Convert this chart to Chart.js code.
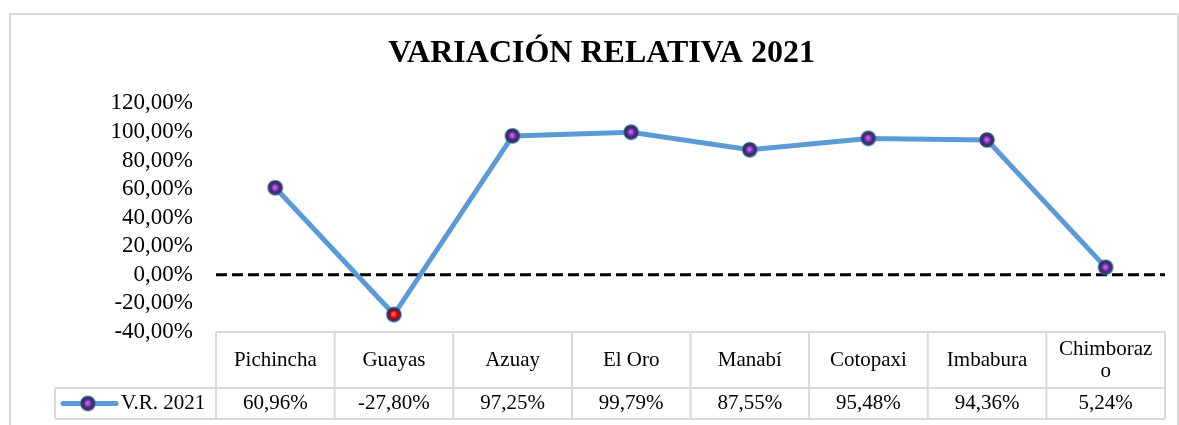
<!DOCTYPE html>
<html><head><meta charset="utf-8">
<script src="https://cdn.jsdelivr.net/npm/chart.js@4/dist/chart.umd.min.js"></script>
<style>html,body{margin:0;padding:0;background:#fff;overflow:hidden}</style>
</head><body>
<canvas id="c" width="1179" height="425"></canvas>
<script>
const categories = ['Pichincha', 'Guayas', 'Azuay', 'El Oro', 'Manabí', 'Cotopaxi', 'Imbabura', ['Chimboraz', 'o']];
const seriesName = 'V.R. 2021';
const values = [60.96, -27.80, 97.25, 99.79, 87.55, 95.48, 94.36, 5.24];
const yMin = -40, yMax = 120, yStep = 20;
const titleText = 'VARIACIÓN RELATIVA 2021';

const fmt = v => v.toFixed(2).replace('.', ',') + '%';
const FONT = '"Liberation Serif", "Times New Roman", serif';

function makeMarker(edge, inner, center) {
  const s = 18, c = document.createElement('canvas');
  c.width = s; c.height = s;
  const g = c.getContext('2d');
  let rg = g.createRadialGradient(8, 8, 2, 9, 9, 8.5);
  rg.addColorStop(0, '#1c2b4f');
  rg.addColorStop(0.75, '#2b426f');
  rg.addColorStop(1, 'rgba(120,170,220,0.5)');
  g.fillStyle = rg; g.beginPath(); g.arc(9, 9, 8, 0, Math.PI * 2); g.fill();
  rg = g.createRadialGradient(8.5, 8.5, 0.5, 9, 9, 5);
  rg.addColorStop(0, center); rg.addColorStop(0.6, inner); rg.addColorStop(1, edge);
  g.fillStyle = rg; g.beginPath(); g.arc(9, 9, 5, 0, Math.PI * 2); g.fill();
  return c;
}
const purpleMarker = makeMarker('#4b1a73', '#7a2fb0', '#c07ae8');
const redMarker = makeMarker('#9a0000', '#ff0000', '#ff8080');

const frame = {
  id: 'frame',
  beforeDraw(chart) {
    const ctx = chart.ctx;
    ctx.save();
    ctx.fillStyle = '#fff';
    ctx.fillRect(0, 0, chart.width, chart.height);
    ctx.strokeStyle = '#d9d9d9';
    ctx.lineWidth = 2;
    ctx.strokeRect(10, 14, 1168, 500);
    ctx.restore();
  }
};

const zeroLine = {
  id: 'zeroLine',
  beforeDatasetsDraw(chart) {
    const { ctx, chartArea: a, scales: { y } } = chart;
    const y0 = y.getPixelForValue(0);
    ctx.save();
    ctx.strokeStyle = '#000';
    ctx.lineWidth = 3;
    ctx.setLineDash([11, 5]);
    ctx.beginPath(); ctx.moveTo(a.left, y0); ctx.lineTo(a.right, y0); ctx.stroke();
    ctx.restore();
  }
};

const dataTable = {
  id: 'dataTable',
  afterDraw(chart) {
    const { ctx, chartArea: a, scales: { x } } = chart;
    const n = categories.length;
    const step = x.getPixelForValue(1) - x.getPixelForValue(0);
    const top = a.bottom, mid = a.bottom + 56, bot = a.bottom + 87;
    const legL = 55;
    const ln = (x1, y1, x2, y2) => { ctx.beginPath(); ctx.moveTo(x1, y1); ctx.lineTo(x2, y2); ctx.stroke(); };
    ctx.save();
    ctx.strokeStyle = '#d9d9d9';
    ctx.lineWidth = 2;
    ln(a.left, top, a.right, top);
    ln(legL, mid, a.right, mid);
    ln(legL, bot, a.right, bot);
    ln(legL, mid, legL, bot);
    for (let i = 0; i <= n; i++) {
      const xb = x.getPixelForValue(0) - step / 2 + i * step;
      ln(xb, top, xb, bot);
    }
    ctx.fillStyle = '#000';
    ctx.font = '21px ' + FONT;
    ctx.textAlign = 'center';
    ctx.textBaseline = 'middle';
    categories.forEach((c, i) => {
      const cx = x.getPixelForValue(i);
      const lines = Array.isArray(c) ? c : [c];
      lines.forEach((l, j) => ctx.fillText(l, cx, (top + mid) / 2 + (j - (lines.length - 1) / 2) * 22));
      ctx.fillText(fmt(values[i]), cx, (mid + bot) / 2);
    });
    const ly = (mid + bot) / 2;
    ctx.strokeStyle = '#5b9bd5';
    ctx.lineWidth = 5;
    ctx.lineCap = 'round';
    ln(63, ly, 116, ly);
    ctx.drawImage(purpleMarker, 88 - 9, ly - 9);
    ctx.textAlign = 'left';
    ctx.fillText(seriesName, 121, ly);
    ctx.restore();
  }
};

new Chart(document.getElementById('c'), {
  type: 'line',
  data: {
    labels: categories,
    datasets: [{
      label: seriesName,
      data: values,
      borderColor: '#5b9bd5',
      borderWidth: 5,
      tension: 0,
      pointStyle: values.map(v => v < 0 ? redMarker : purpleMarker),
      pointRadius: 8,
      pointHoverRadius: 8
    }]
  },
  options: {
    responsive: false,
    animation: false,
    devicePixelRatio: 1,
    layout: { padding: { left: 38, right: 14, top: 0, bottom: 93 } },
    plugins: {
      legend: { display: false },
      tooltip: { enabled: false },
      title: {
        display: true,
        text: titleText,
        color: '#000',
        font: { family: FONT, size: 32, weight: 'bold', lineHeight: 1.2 },
        padding: { top: 35, bottom: 30 }
      }
    },
    scales: {
      x: { display: false, offset: true },
      y: {
        min: yMin, max: yMax,
        afterFit(s) { s.width = 178; },
        grid: { display: false, drawTicks: false },
        border: { display: false },
        ticks: {
          stepSize: yStep,
          autoSkip: false,
          padding: 23,
          color: '#000',
          font: { family: FONT, size: 23, lineHeight: 1 },
          callback: v => fmt(v)
        }
      }
    }
  },
  plugins: [frame, zeroLine, dataTable]
});
</script>
</body></html>
